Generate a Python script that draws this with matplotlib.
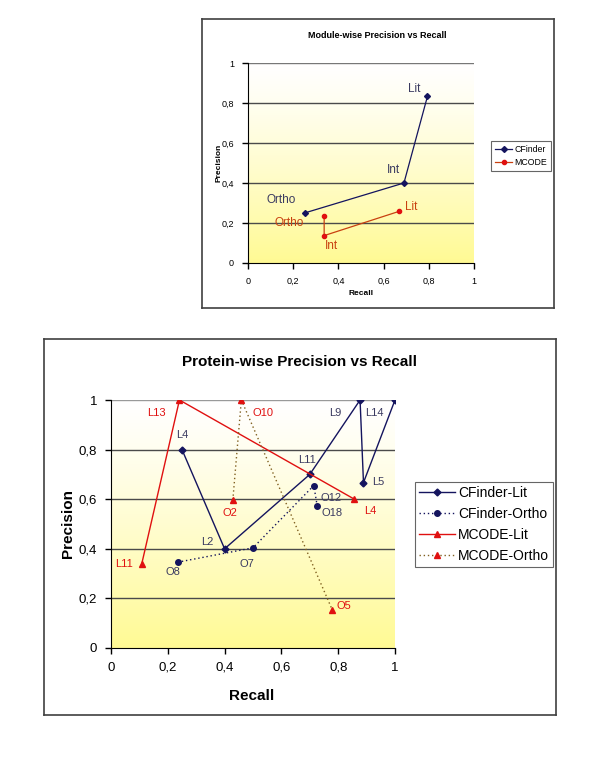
import matplotlib
matplotlib.use('Agg')
import matplotlib.pyplot as plt
import numpy as np

plt.rcParams['font.family'] = ['Liberation Sans', 'DejaVu Sans']

# ---------------- data ----------------
# Module-wise
mod_labels = ['Ortho', 'Int', 'Lit']
mod_cf_recall = [0.25, 0.69, 0.794]
mod_cf_prec = [0.25, 0.40, 0.833]
mod_mc_recall = [0.337, 0.337, 0.668]
mod_mc_prec = [0.233, 0.137, 0.258]

# Protein-wise
cf_lit_labels = ['L4', 'L2', 'L11', 'L9', 'L5', 'L14']
cf_lit_recall = [0.25, 0.40, 0.70, 0.877, 0.889, 1.0]
cf_lit_prec = [0.80, 0.40, 0.70, 1.0, 0.667, 1.0]

cf_ortho_labels = ['O8', 'O7', 'O12', 'O18']
cf_ortho_recall = [0.235, 0.50, 0.714, 0.726]
cf_ortho_prec = [0.346, 0.404, 0.655, 0.574]

mc_lit_labels = ['L11', 'L13', 'L4']
mc_lit_recall = [0.108, 0.241, 0.857]
mc_lit_prec = [0.338, 1.0, 0.60]

mc_ortho_labels = ['O2', 'O10', 'O5']
mc_ortho_recall = [0.429, 0.459, 0.779]
mc_ortho_prec = [0.597, 1.0, 0.154]

ticks = [0, 0.2, 0.4, 0.6, 0.8, 1]
tick_labels = ['0', '0,2', '0,4', '0,6', '0,8', '1']

NAVY = '#14145e'
RED = '#e01010'
ORANGE = '#c84010'
LBL_BLUE = '#3a3a60'

W, H = 600, 762


def fig_rect(x0, y0, x1, y1):
    # pixel box (top-left origin) -> figure fraction
    return [x0 / W, 1 - y1 / H, (x1 - x0) / W, (y1 - y0) / H]


def style_axes(ax, tick_fs, grid_top_color):
    g = np.linspace(0, 1, 256) ** 1.2
    cols = np.zeros((256, 1, 3))
    cols[:, 0, 0] = 1.0
    cols[:, 0, 1] = 1.0 - 0.02 * g
    cols[:, 0, 2] = 1.0 - 0.42 * g
    # row 0 drawn at the top (white), last row at the bottom (yellow)
    ax.imshow(cols, extent=[0, 1, 0, 1], origin='upper', aspect='auto', zorder=0)
    ax.set_xlim(0, 1)
    ax.set_ylim(0, 1)
    for y in ticks[1:]:
        c = grid_top_color if y == 1 else '#4a4a4a'
        ax.axhline(y, color=c, lw=1.0, zorder=1)
    ax.spines['top'].set_visible(False)
    ax.spines['right'].set_visible(False)
    ax.spines['left'].set_color('black')
    ax.spines['bottom'].set_color('black')
    ax.set_xticks(ticks)
    ax.set_yticks(ticks)
    ax.set_xticklabels(tick_labels)
    ax.set_yticklabels(tick_labels)
    ax.tick_params(direction='out', length=4, width=1, labelsize=tick_fs, pad=6)


def label_points(ax, xs, ys, labels, offsets, color, fs):
    for x, y, t, (dx, dy, ha) in zip(xs, ys, labels, offsets):
        ax.annotate(t, (x, y), xytext=(dx, dy), textcoords='offset pixels',
                    ha=ha, va='center', color=color, fontsize=fs, zorder=6)


fig = plt.figure(figsize=(6, 7.62), dpi=100)

# ---------------- top chart ----------------
frame1 = fig.add_axes(fig_rect(202, 19, 554, 308))
frame1.set_xticks([])
frame1.set_yticks([])
for s in frame1.spines.values():
    s.set_color('#404040')
    s.set_linewidth(1.2)

ax1 = fig.add_axes(fig_rect(248, 63, 474, 263))
style_axes(ax1, 6.5, '#777777')

ax1.plot(mod_cf_recall, mod_cf_prec, color=NAVY, lw=0.9, marker='D', ms=3,
         label='CFinder', zorder=4)
ax1.plot(mod_mc_recall, mod_mc_prec, color=ORANGE, lw=0.9, marker='o', ms=3,
         mfc=RED, mec=RED, label='MCODE', zorder=4)

label_points(ax1, mod_cf_recall, mod_cf_prec, mod_labels,
             [(-23, 13, 'center'), (-11, 13, 'center'), (-13, 7, 'center')],
             LBL_BLUE, 8.5)
label_points(ax1, mod_mc_recall, mod_mc_prec, mod_labels,
             [(-35, -7, 'center'), (7, -10, 'center'), (6, 4, 'left')],
             ORANGE, 8.5)

fig.text(377 / W, 1 - 36 / H, 'Module-wise Precision vs Recall', ha='center',
         va='center', fontsize=6.5, fontweight='bold')
fig.text(219 / W, 1 - 163 / H, 'Precision', ha='center', va='center',
         rotation=90, fontsize=6, fontweight='bold')
fig.text(361 / W, 1 - 293 / H, 'Recall', ha='center', va='center',
         fontsize=6, fontweight='bold')

leg1 = ax1.legend(loc='center left', bbox_to_anchor=(1.075, 0.535), fontsize=6.3,
                  frameon=True, fancybox=False, edgecolor='#404040',
                  handlelength=2.0, handletextpad=0.25, borderpad=0.45,
                  labelspacing=0.55, borderaxespad=0)
leg1.get_frame().set_linewidth(0.8)

# ---------------- bottom chart ----------------
frame2 = fig.add_axes(fig_rect(44, 339, 556, 715))
frame2.set_xticks([])
frame2.set_yticks([])
for s in frame2.spines.values():
    s.set_color('#404040')
    s.set_linewidth(1.2)

ax2 = fig.add_axes(fig_rect(111, 400, 395, 648))
style_axes(ax2, 9.5, '#999999')

ax2.plot(cf_lit_recall, cf_lit_prec, color=NAVY, lw=1.0, marker='D', ms=3.5,
         label='CFinder-Lit', zorder=4)
ax2.plot(cf_ortho_recall, cf_ortho_prec, color=NAVY, lw=1.0, ls=(0, (1, 2)),
         marker='o', ms=4, label='CFinder-Ortho', zorder=4)
ax2.plot(mc_lit_recall, mc_lit_prec, color=RED, lw=1.0, marker='^', ms=5,
         label='MCODE-Lit', zorder=4)
ax2.plot(mc_ortho_recall, mc_ortho_prec, color='#806020', lw=1.0, ls=(0, (1, 2)),
         marker='^', ms=5, mfc=RED, mec=RED, label='MCODE-Ortho', zorder=4)

label_points(ax2, cf_lit_recall, cf_lit_prec, cf_lit_labels,
             [(0, 15, 'center'), (-17, 7, 'center'), (-3, 14, 'center'),
              (-25, -13, 'center'), (15, 1, 'center'), (-21, -13, 'center')],
             LBL_BLUE, 8)
label_points(ax2, cf_ortho_recall, cf_ortho_prec, cf_ortho_labels,
             [(-5, -10, 'center'), (-6, -16, 'center'), (7, -12, 'left'),
              (4, -7, 'left')],
             LBL_BLUE, 8)
label_points(ax2, mc_lit_recall, mc_lit_prec, mc_lit_labels,
             [(-18, 0, 'center'), (-23, -13, 'center'), (16, -12, 'center')],
             RED, 8)
label_points(ax2, mc_ortho_recall, mc_ortho_prec, mc_ortho_labels,
             [(-3, -13, 'center'), (22, -13, 'center'), (4, 4, 'left')],
             RED, 8)

fig.text(300 / W, 1 - 362 / H, 'Protein-wise Precision vs Recall', ha='center',
         va='center', fontsize=11, fontweight='bold')
fig.text(68 / W, 1 - 524 / H, 'Precision', ha='center', va='center',
         rotation=90, fontsize=11, fontweight='bold')
fig.text(252 / W, 1 - 696 / H, 'Recall', ha='center', va='center',
         fontsize=11, fontweight='bold')

leg2 = ax2.legend(loc='center left', bbox_to_anchor=(1.07, 0.498), fontsize=10,
                  frameon=True, fancybox=False, edgecolor='#404040',
                  handlelength=2.6, handletextpad=0.2, borderpad=0.3,
                  labelspacing=0.5, borderaxespad=0)
leg2.get_frame().set_linewidth(0.8)

fig.savefig('out.png', dpi=100, facecolor='white')
